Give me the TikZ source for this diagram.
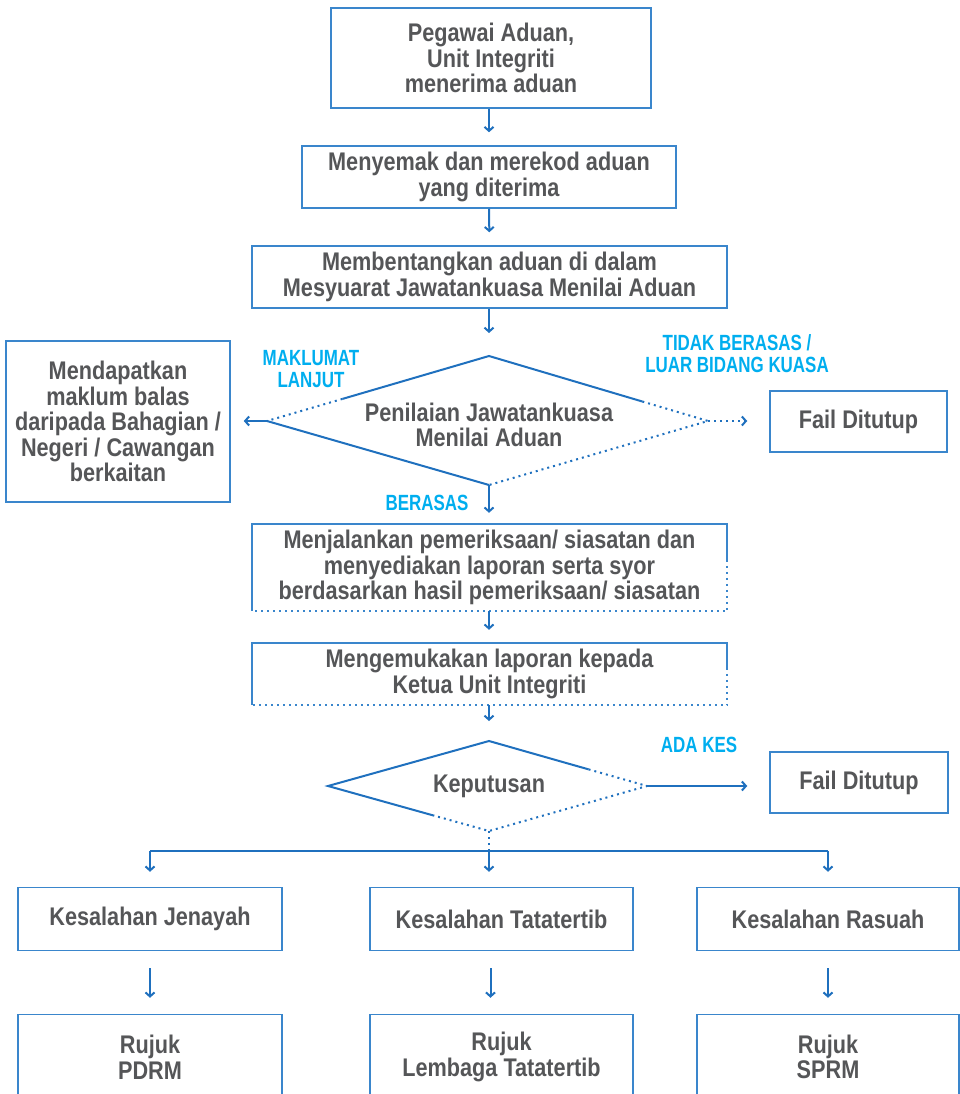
\documentclass[tikz,border=0pt]{standalone}
\usepackage{fontspec}
\setmainfont{Liberation Sans}[FakeStretch=0.85]
\newfontfamily\lblfont{Liberation Sans}[FakeStretch=0.77]
\usetikzlibrary{arrows.meta,calc}
\definecolor{txt}{HTML}{555658}
\definecolor{lbl}{HTML}{00AEEF}
\definecolor{edgec}{HTML}{3A86CC}
\definecolor{conn}{HTML}{1F70BE}
\begin{document}
\begin{tikzpicture}[x=1pt,y=-1pt,
  box/.style={draw=edgec, line width=1.5pt, fill=white, text=txt, font=\bfseries\fontsize{25.5}{25.5}\selectfont, align=center, inner sep=0pt},
  plain/.style={text=txt, font=\bfseries\fontsize{25.5}{25.5}\selectfont, align=center, inner sep=0pt},
  lab/.style={text=lbl, font=\lblfont\bfseries\fontsize{22}{22}\selectfont, align=center, inner sep=0pt},
  ln/.style={draw=conn, line width=2pt},
  bl/.style={draw=edgec, line width=1.5pt},
  arr/.style={draw=conn, line width=2pt, -{Straight Barb[length=4pt,width=9pt]}},
  dot/.style={dash pattern=on 2pt off 4pt},
]
\useasboundingbox (0,0) rectangle (960,1094);

% boxes
\node[box, minimum width=320pt, minimum height=100pt] (b1) at (491,58) {Pegawai Aduan,\\Unit Integriti\\menerima aduan};
\node[box, minimum width=374pt, minimum height=62pt] (b2) at (489,177) {Menyemak dan merekod aduan\\yang diterima};
\node[box, minimum width=475pt, minimum height=62pt] (b3) at (489.5,277) {Membentangkan aduan di dalam\\Mesyuarat Jawatankuasa Menilai Aduan};
\node[box, minimum width=224pt, minimum height=161pt] (lb) at (118,421.5) {Mendapatkan\\maklum balas\\daripada Bahagian /\\Negeri / Cawangan\\berkaitan};
\node[box, minimum width=177pt, minimum height=61pt] (f1) at (858.5,421.5) {Fail Ditutup};
\node[plain, minimum width=475pt, minimum height=87pt] (b4) at (489.5,567.5) {Menjalankan pemeriksaan/ siasatan dan\\menyediakan laporan serta syor\\berdasarkan hasil pemeriksaan/ siasatan};
\node[plain, minimum width=475pt, minimum height=62pt] (b5) at (489.5,674) {Mengemukakan laporan kepada\\Ketua Unit Integriti};
\node[box, minimum width=178pt, minimum height=61pt] (f2) at (859,782.5) {Fail Ditutup};
\node[box, minimum width=264pt, minimum height=63pt] (ka) at (150,919) {Kesalahan Jenayah};
\node[box, minimum width=263pt, minimum height=63pt] (kb) at (501.5,919) {Kesalahan Tatatertib};
\node[box, minimum width=262pt, minimum height=63pt] (kc) at (828,919) {Kesalahan Rasuah};
\node[box, minimum width=264pt, minimum height=85pt] (ra) at (150,1057) {Rujuk\\PDRM};
\node[box, minimum width=263pt, minimum height=85pt] (rb) at (501.5,1057) {Rujuk\\Lembaga Tatatertib};
\node[box, minimum width=262pt, minimum height=85pt] (rc) at (828,1057) {Rujuk\\SPRM};

% partly dotted box borders
\draw[bl] ([yshift=-36pt]b4.north east) -- (b4.north east) -- (b4.north west) -- (b4.south west);
\draw[bl,dot] ([yshift=-36pt]b4.north east) -- (b4.south east) -- (b4.south west);
\draw[bl] ([yshift=-25pt]b5.north east) -- (b5.north east) -- (b5.north west) -- (b5.south west);
\draw[bl,dot] ([yshift=-25pt]b5.north east) -- (b5.south east) -- (b5.south west);

% diamond 1
\coordinate (d1t) at (489,356);
\coordinate (d1l) at (267,421);
\coordinate (d1r) at (708,421);
\coordinate (d1b) at (489,485);
\draw[ln] ($(d1t)!0.66!(d1l)$) -- (d1t) -- ($(d1t)!0.70!(d1r)$);
\draw[ln] (d1l) -- (d1b);
\draw[ln,dot] ($(d1t)!0.66!(d1l)$) -- (d1l);
\draw[ln,dot] ($(d1t)!0.70!(d1r)$) -- (d1r) -- (d1b);
\node[plain] (d1txt) at (489,425) {Penilaian Jawatankuasa\\Menilai Aduan};

% diamond 2
\coordinate (d2t) at (489,741);
\coordinate (d2l) at (328,786);
\coordinate (d2r) at (647,786);
\coordinate (d2b) at (489,831);
\draw[ln] ($(d2l)!0.66!(d2b)$) -- (d2l) -- (d2t) -- ($(d2t)!0.63!(d2r)$);
\draw[ln,dot] ($(d2t)!0.63!(d2r)$) -- (d2r) -- (d2b) -- ($(d2l)!0.66!(d2b)$);
\node[plain] (d2txt) at (489,786) {Keputusan};

% labels
\node[lab] (l1) at (311,369) {MAKLUMAT\\LANJUT};
\node[lab] (l2) at (737,354) {TIDAK BERASAS /\\LUAR BIDANG KUASA};
\node[lab] (l3) at (427,503) {BERASAS};
\node[lab] (l4) at (699,745) {ADA KES};

% connectors
\draw[arr, shorten >=13pt] (b1.south -| b2.north) -- (b2.north);
\draw[arr, shorten >=13pt] (b2.south) -- (b3.north);
\draw[arr, shorten >=23pt] (b3.south -| d1t) -- (d1t);
\draw[arr, shorten >=13pt] (d1l) -- (d1l -| lb.east);
\draw[arr, dot, shorten >=22pt] (d1r) -- (d1r -| f1.west);
\draw[arr, shorten >=11pt] (d1b) -- (d1b |- b4.north);
\draw[arr, shorten >=13pt] (b4.south -| d1b) -- (b5.north -| d1b);
\draw[arr, shorten >=20pt] (b5.south -| d2t) -- (d2t);
\draw[arr, shorten >=22pt] (d2r) -- (d2r -| f2.west);

\coordinate (br) at (489,851);
\coordinate (brl) at (150,851);
\coordinate (brr) at (828,851);
\draw[ln, dot] (d2b) -- (br);
\draw[ln] (brl) -- (brr);
\draw[arr, shorten >=15pt] (brl) -- (ka.north);
\draw[arr, shorten >=15pt] (br) -- (br |- kb.north);
\draw[arr, shorten >=15pt] (brr) -- (kc.north);

\draw[arr, shorten <=17pt, shorten >=16pt] (ka.south) -- (ra.north);
\draw[arr, shorten <=17pt, shorten >=16pt] ([xshift=-11pt]kb.south) -- ([xshift=-11pt]rb.north);
\draw[arr, shorten <=17pt, shorten >=16pt] (kc.south) -- (rc.north);
\end{tikzpicture}
\end{document}
